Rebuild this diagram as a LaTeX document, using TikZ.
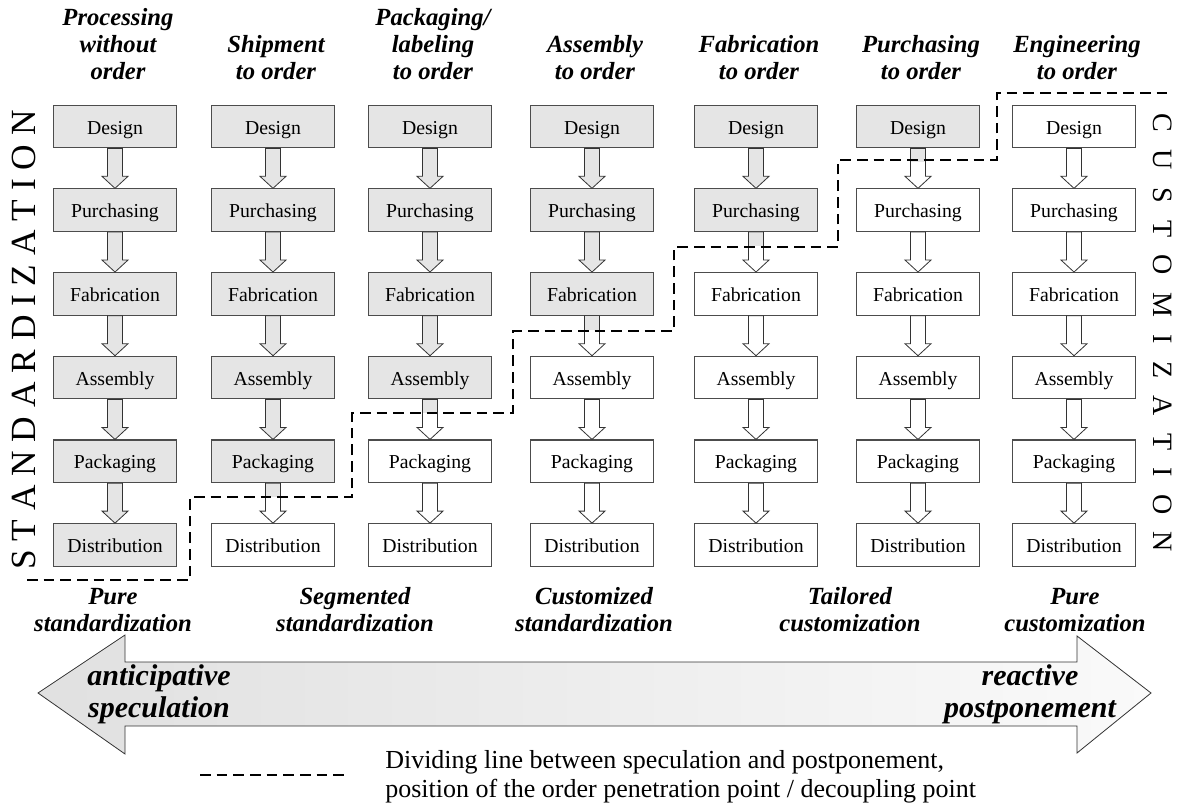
\documentclass[tikz,border=0pt]{standalone}
\usepackage{fontspec}
\setmainfont{Liberation Serif}
\usetikzlibrary{calc}
\definecolor{stagegray}{gray}{0.9}
\newcommand{\sgap}{\hspace{0.62em}}

\begin{document}
\begin{tikzpicture}[x=0.75pt, y=-0.75pt,
    stage/.style={draw=black!70, line width=0.8pt, minimum width=92pt, minimum height=32pt, inner sep=0pt, text height=11.5pt, text depth=0pt, font=\fontsize{14.8}{16}\selectfont},
    flow/.style={draw=black!80, line width=0.6pt},
    stitle/.style={align=center, inner sep=0pt, text depth=0pt, anchor=south, font=\fontsize{18.5}{20.25}\selectfont\bfseries\itshape},
    bigtext/.style={align=center, inner sep=0pt, text depth=0pt, anchor=south, font=\fontsize{22.5}{24}\selectfont\bfseries\itshape},
    divide/.style={line width=1.8pt, dash pattern=on 8pt off 4.5pt}]
    \useasboundingbox (0,0) rectangle (1183,807);

    % stages, one column per order type
    \foreach \c/\x/\ttl in {1/115/{Processing\\without\\order}, 2/273/{Shipment\\to order}, 3/430/{Packaging/\\labeling\\to order}, 4/592/{Assembly\\to order}, 5/756/{Fabrication\\to order}, 6/918/{Purchasing\\to order}, 7/1074/{Engineering\\to order}} {
        \pgfmathtruncatemacro\ng{7-\c}
        \foreach \r/\txt in {1/Design, 2/Purchasing, 3/Fabrication, 4/Assembly, 5/Packaging, 6/Distribution} {
            \ifnum\r>\ng \def\fc{white}\else\def\fc{stagegray}\fi
            \node [stage, fill=\fc] (n-\c-\r) at (\x, {126.5+83.7*(\r-1)}) {\txt};
        }
        \node [stitle] (t-\c) at ($(n-\c-1.north)+(3,-25)$) {\ttl};
    }

    % block arrows between stages
    \foreach \c in {1,...,7} {
        \pgfmathtruncatemacro\ng{7-\c}
        \foreach \r [evaluate=\r as \s using int(\r+1)] in {1,...,5} {
            \ifnum\r<\ng \def\fc{stagegray}\else\def\fc{white}\fi
            \draw [flow, fill=\fc] ($(n-\c-\r.south)+(-7.5,0)$) -- ($(n-\c-\r.south)+(7.5,0)$) -- ($(n-\c-\s.north)+(7.5,-12)$) -- ($(n-\c-\s.north)+(13,-12)$) -- (n-\c-\s.north) -- ($(n-\c-\s.north)+(-13,-12)$) -- ($(n-\c-\s.north)+(-7.5,-12)$) -- cycle;
            \ifnum\r=\ng
                \fill [stagegray] ($(n-\c-\r.south)+(-7,0.5)$) rectangle ($(n-\c-\r.south)+(7,14)$);
            \fi
        }
    }

    % order penetration point
    \draw [divide] (27,580) -- (190,580) -- (190,497) -- (352,497) -- (352,413) -- (513,413) -- (513,331) -- (674,331) -- (674,247) -- (838,247) -- (838,160) -- (997,160) -- (997,93) -- (1167,93);

    \node [rotate=90, inner sep=0pt, font=\fontsize{26.5}{28}\selectfont] (std) at (24,340) {S T A N D A R D I Z A T I O N};
    \node [rotate=-90, inner sep=0pt, font=\fontsize{21}{24}\selectfont] (cst) at (1163,333) {C\sgap U\sgap S\sgap T\sgap O\sgap M\sgap I\sgap Z\sgap A\sgap T\sgap I\sgap O\sgap N};

    % strategies
    \foreach \x/\ttl [count=\i] in {113/{Pure\\standardization}, 355/{Segmented\\standardization}, 594/{Customized\\standardization}, 850/{Tailored\\customization}, 1075/{Pure\\customization}}
        \node [stitle] (s-\i) at (\x,632) {\ttl};

    \draw [left color=black!12, right color=black!2, draw=black!80, line width=0.6pt] (38,693) -- (125,635) -- (125,662) -- (1077,662) -- (1077,636) -- (1151,693) -- (1077,753) -- (1077,726) -- (125,726) -- (125,754) -- cycle;
    \node [bigtext] (spec) at (159,718) {anticipative\\speculation};
    \node [bigtext] (post) at (1030,718) {reactive\\postponement};

    % legend
    \coordinate (lg-a) at (200,775);
    \coordinate (lg-b) at (350,775);
    \draw [divide] (lg-a) -- (lg-b);
    \node [align=left, anchor=south west, inner sep=0pt, text depth=0pt, font=\fontsize{19.5}{21.75}\selectfont] (lg) at (385,798) {Dividing line between speculation and postponement,\\position of the order penetration point / decoupling point};
\end{tikzpicture}
\end{document}
